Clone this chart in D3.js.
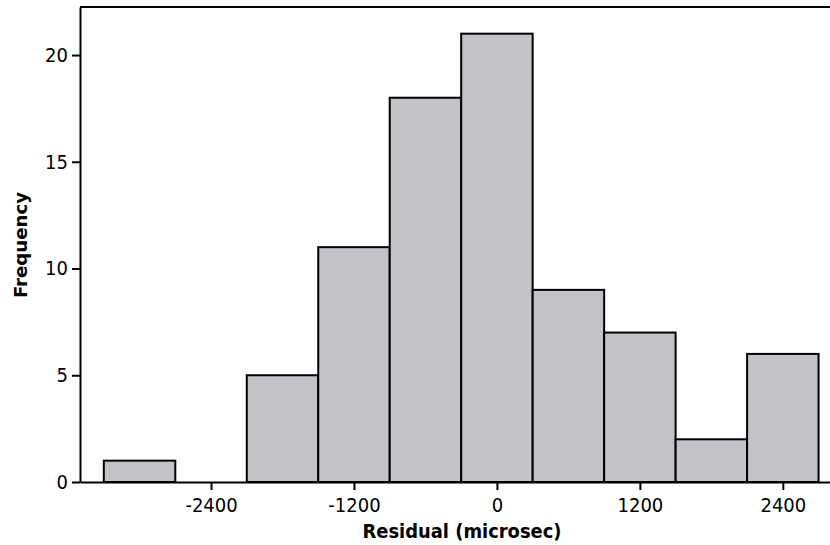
<!DOCTYPE html>
<html>
<head>
<meta charset="utf-8">
<script src="https://cdn.jsdelivr.net/npm/d3@7/dist/d3.min.js"></script>
<style>
  html, body { margin: 0; padding: 0; background: #fff; }
  svg { display: block; }
  text { font-family: "DejaVu Sans Condensed", "DejaVu Sans", sans-serif; fill: #000; }
</style>
</head>
<body>
<svg id="chart" width="830" height="545"></svg>
<script>
// Histogram bins (centres, microsec) and their counts
const binCenters = [-3000, -2400, -1800, -1200, -600, 0, 600, 1200, 1800, 2400];
const counts     = [1, 0, 5, 11, 18, 21, 9, 7, 2, 6];
const binWidth = 600;
const xTicks = [-2400, -1200, 0, 1200, 2400];
const yTicks = [0, 5, 10, 15, 20];
const xTitle = "Residual (microsec)";
const yTitle = "Frequency";

const svg = d3.select("#chart");
const plotL = 80, plotR = 830, plotT = 7, plotB = 482;

const x = d3.scaleLinear().domain([-3500, 2796]).range([plotL, plotR]);
const y = d3.scaleLinear().domain([0, 22.25]).range([plotB, plotT]);

// bars
svg.append("g").selectAll("rect")
  .data(binCenters.map((c, i) => ({c, n: counts[i]})).filter(d => d.n > 0))
  .join("rect")
  .attr("x", d => x(d.c - binWidth / 2))
  .attr("width", d => x(d.c + binWidth / 2) - x(d.c - binWidth / 2))
  .attr("y", d => y(d.n))
  .attr("height", d => y(0) - y(d.n))
  .attr("fill", "#c4c2c6")
  .attr("stroke", "#000")
  .attr("stroke-width", 2);

// top frame line
svg.append("line")
  .attr("x1", plotL).attr("x2", plotR)
  .attr("y1", plotT).attr("y2", plotT)
  .attr("stroke", "#000").attr("stroke-width", 2);

// x axis
const gx = svg.append("g").attr("transform", `translate(0,${plotB})`)
  .call(d3.axisBottom(x).tickValues(xTicks).tickSize(8).tickSizeOuter(0).tickFormat(d3.format("d")).tickPadding(8));
gx.select(".domain").attr("stroke", "#000").attr("stroke-width", 2);
gx.selectAll(".tick line").attr("stroke", "#000").attr("stroke-width", 2);
gx.selectAll(".tick text").attr("font-size", 20).attr("font-family", null).text(d => d < 0 ? "-" + Math.abs(d) : d);

// y axis
const gy = svg.append("g").attr("transform", `translate(${plotL},0)`)
  .call(d3.axisLeft(y).tickValues(yTicks).tickSize(8).tickSizeOuter(0).tickPadding(4));
gy.select(".domain").attr("stroke", "#000").attr("stroke-width", 2);
gy.selectAll(".tick line").attr("stroke", "#000").attr("stroke-width", 2);
gy.selectAll(".tick text").attr("font-size", 20).attr("font-family", null);

// axis titles
svg.append("text")
  .attr("x", 462).attr("y", 538)
  .attr("text-anchor", "middle")
  .attr("font-size", 19).attr("font-weight", "bold")
  .attr("textLength", 199).attr("lengthAdjust", "spacingAndGlyphs")
  .text(xTitle);

svg.append("text")
  .attr("transform", "translate(27,245) rotate(-90)")
  .attr("text-anchor", "middle")
  .attr("font-size", 18).attr("font-weight", "bold")
  .attr("textLength", 106).attr("lengthAdjust", "spacingAndGlyphs")
  .text(yTitle);
</script>
</body>
</html>
